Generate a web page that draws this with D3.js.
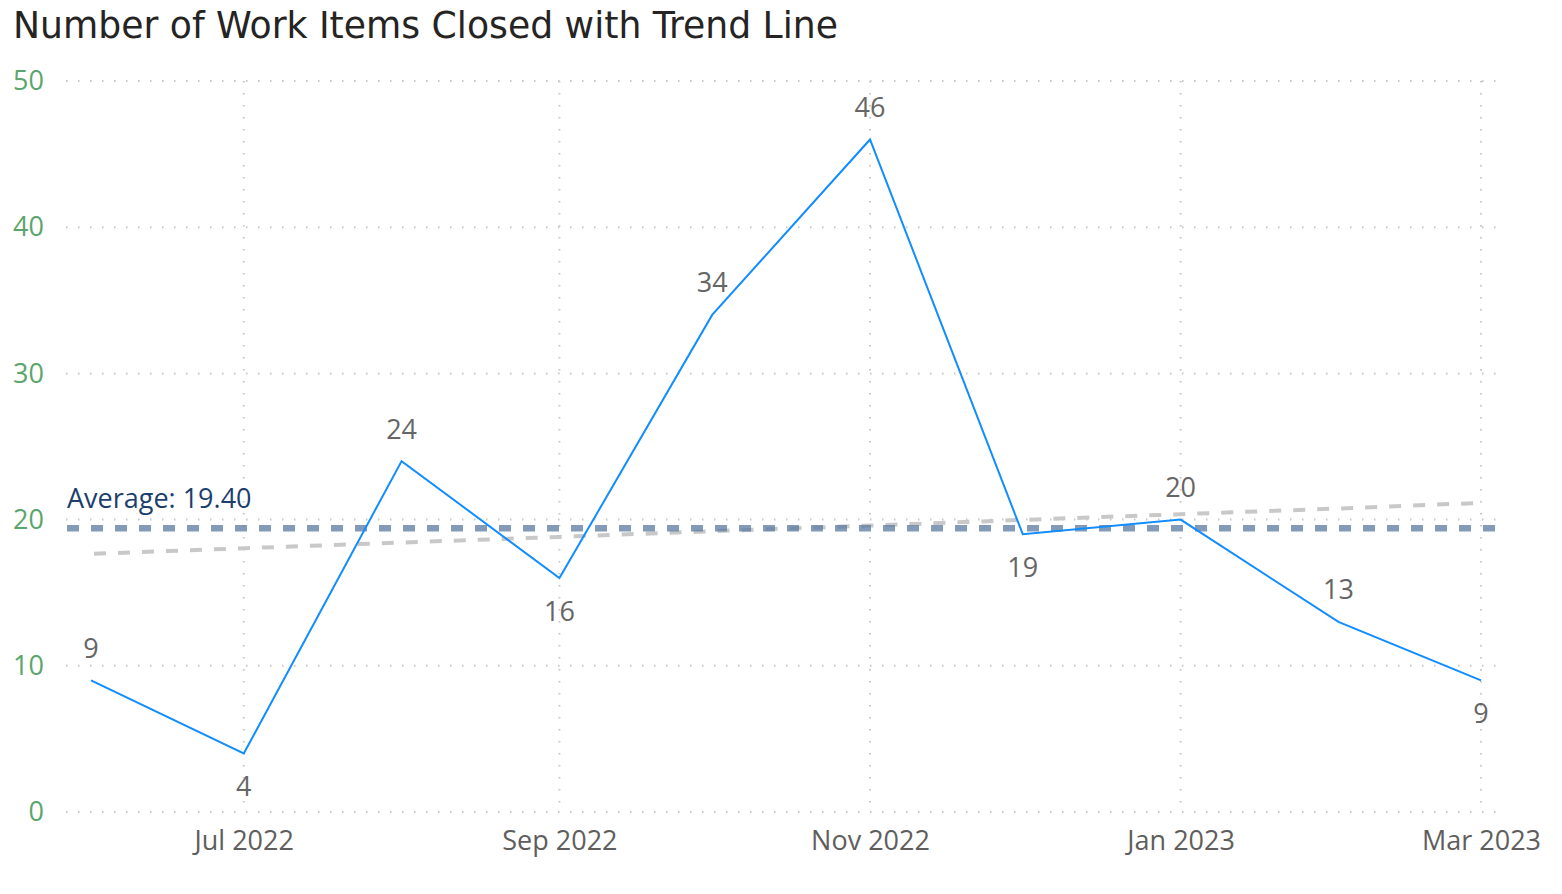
<!DOCTYPE html>
<html><head><meta charset="utf-8">
<script src="https://cdn.jsdelivr.net/npm/d3@7"></script>
<style>
html,body{margin:0;padding:0;background:#fff;}
svg{display:block;}
</style></head>
<body>
<svg id="chart" width="1562" height="894"></svg>
<script>
const months = ["2022-06-01","2022-07-01","2022-08-01","2022-09-01","2022-10-01","2022-11-01","2022-12-01","2023-01-01","2023-02-01","2023-03-01"];
const closedCounts = [9, 4, 24, 16, 34, 46, 19, 20, 13, 9];
const yTicks = [0, 10, 20, 30, 40, 50];
const xTickMonths = ["2022-07-01","2022-09-01","2022-11-01","2023-01-01","2023-03-01"];
const titleText = "Number of Work Items Closed with Trend Line";

const parse = d3.utcParse("%Y-%m-%d");
const dates = months.map(parse);
const data = dates.map((d,i)=>({date:d, value:closedCounts[i], i}));

const svg = d3.select("#chart");
const font = "'Open Sans','Noto Sans',sans-serif";

const x = d3.scaleUtc().domain([dates[0], dates[dates.length-1]]).range([91, 1481]);
const y = d3.scaleLinear().domain([0, 50]).range([812, 81]);
const gridLeft = 66, gridRight = 1497;

// title
svg.append("text").attr("x", 13).attr("y", 38)
  .attr("font-family", "'DejaVu Sans Condensed','Liberation Sans Narrow',sans-serif")
  .attr("font-size", 38).attr("fill", "#252423")
  .attr("textLength", 825).attr("lengthAdjust", "spacingAndGlyphs")
  .text(titleText);

// horizontal grid
svg.append("g").selectAll("line").data(yTicks).join("line")
  .attr("x1", gridLeft).attr("x2", gridRight)
  .attr("y1", d=>y(d)).attr("y2", d=>y(d))
  .attr("stroke", "#c8c8c8").attr("stroke-width", 2)
  .attr("stroke-dasharray", "1.5,10.5").attr("stroke-linecap","butt");

// vertical grid
const xTicks = xTickMonths.map(parse);
svg.append("g").selectAll("line").data(xTicks).join("line")
  .attr("x1", d=>x(d)).attr("x2", d=>x(d))
  .attr("y1", y(50)).attr("y2", y(0))
  .attr("stroke", "#c8c8c8").attr("stroke-width", 2)
  .attr("stroke-dasharray", "1.5,10.5");

// y axis labels
const yAxis = d3.axisLeft(y).tickValues(yTicks).tickSize(0).tickPadding(0);
const gy = svg.append("g").attr("transform", "translate(44,0)").call(yAxis);
gy.select(".domain").remove();
gy.selectAll("text").attr("font-family", font).attr("font-size", 27).attr("fill", "#5aa56d");

// x axis labels
const xAxis = d3.axisBottom(x).tickValues(xTicks).tickFormat(d3.utcFormat("%b %Y")).tickSize(0).tickPadding(0);
const gx = svg.append("g").attr("transform", "translate(0,850)").call(xAxis);
gx.select(".domain").remove();
gx.selectAll("text").attr("font-family", font).attr("font-size", 27).attr("fill", "#605e5c").attr("dy","0").attr("y",0);

// trend line (least squares)
const n = closedCounts.length;
const mx = d3.mean(data, d=>d.i), my = d3.mean(closedCounts);
const slope = d3.sum(data, d=>(d.i-mx)*(d.value-my)) / d3.sum(data, d=>(d.i-mx)**2);
const icpt = my - slope*mx;
const trend = data.map(d=>({date:d.date, value: icpt + slope*d.i}));
svg.append("path").datum(trend)
  .attr("d", d3.line().x(d=>x(d.date)).y(d=>y(d.value)))
  .attr("fill","none").attr("stroke","#c8c8c8").attr("stroke-width",4)
  .attr("stroke-dasharray","12,12").attr("stroke-dashoffset", -3);

// average line
const avg = d3.mean(closedCounts);
svg.append("line").attr("x1", gridLeft+1).attr("x2", gridRight)
  .attr("y1", y(avg)).attr("y2", y(avg))
  .attr("stroke", "#5a7aa0").attr("stroke-opacity", 0.75).attr("stroke-width", 6.5)
  .attr("stroke-dasharray", "12,12");
svg.append("text").attr("x", 67).attr("y", y(avg)-20)
  .attr("font-family", font).attr("font-size", 27).attr("fill", "#1c3f6e")
  .text("Average: " + avg.toFixed(2));

// main line
svg.append("path").datum(data)
  .attr("d", d3.line().x(d=>x(d.date)).y(d=>y(d.value)))
  .attr("fill","none").attr("stroke","#118dff").attr("stroke-width",2)
  .attr("stroke-linejoin","miter");

// data labels
function isLocalMin(i){
  const v = closedCounts[i];
  const nb = [];
  if (i>0) nb.push(closedCounts[i-1]);
  if (i<n-1) nb.push(closedCounts[i+1]);
  return nb.every(w=>v<w);
}
svg.append("g").selectAll("text").data(data).join("text")
  .attr("x", d=>x(d.date))
  .attr("y", d=> isLocalMin(d.i) ? y(d.value)+33 : y(d.value)-32)
  .attr("dy","0.35em")
  .attr("text-anchor","middle")
  .attr("font-family", font).attr("font-size", 27).attr("fill", "#666666")
  .text(d=>d.value);
</script>
</body></html>
